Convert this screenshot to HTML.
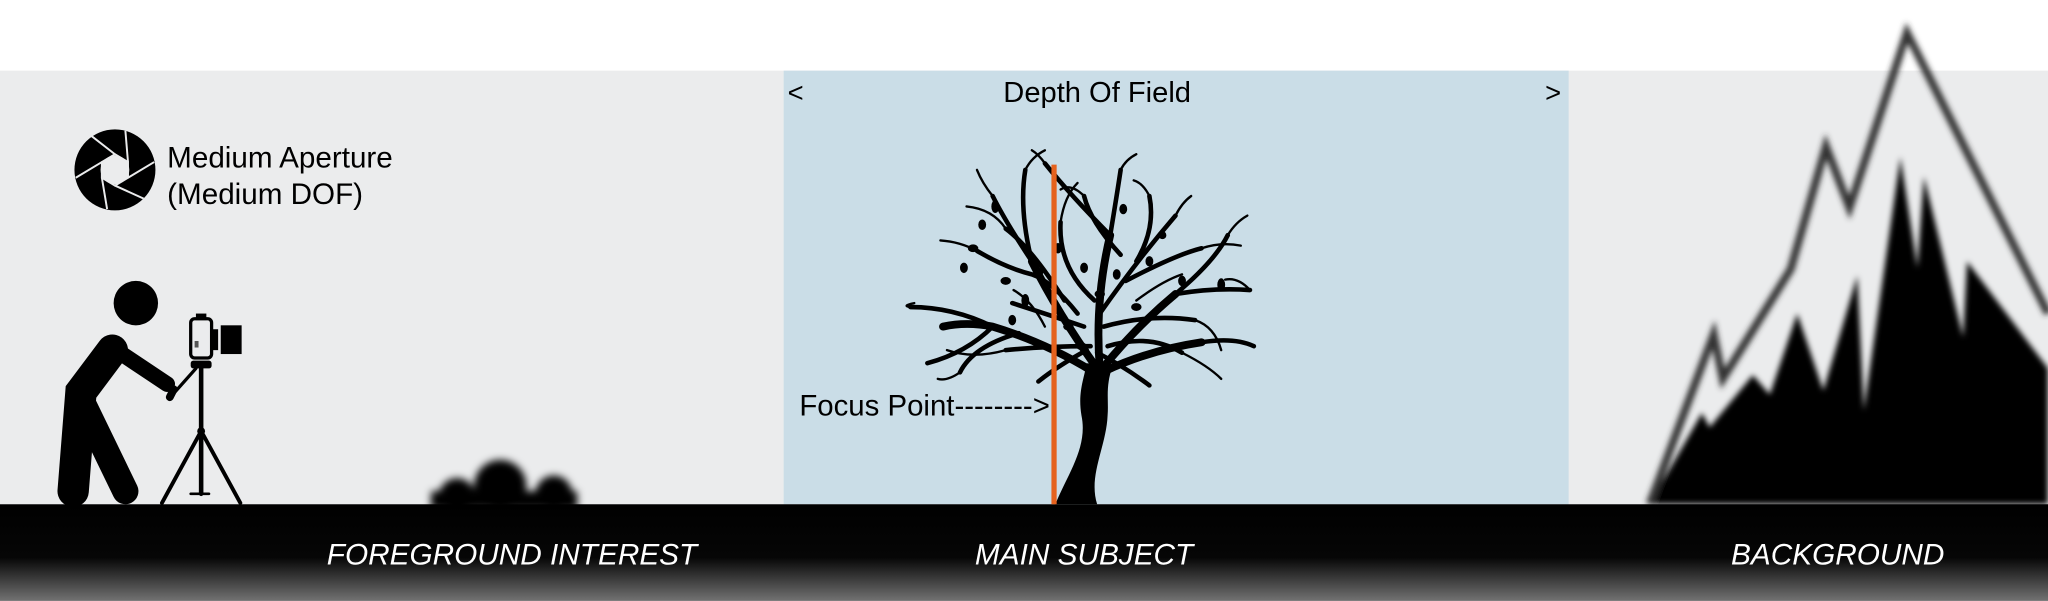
<!DOCTYPE html>
<html><head><meta charset="utf-8"><style>
html,body{margin:0;padding:0;background:#fff;}
svg{display:block;}
text{font-family:"Liberation Sans",Arial,sans-serif;}
</style></head><body>
<svg width="2048" height="601" viewBox="0 0 1568 460" xmlns="http://www.w3.org/2000/svg">
<defs>
<linearGradient id="gnd" x1="0" y1="0" x2="0" y2="1">
<stop offset="0" stop-color="#000"/><stop offset="0.55" stop-color="#060606"/><stop offset="1" stop-color="#727272"/>
</linearGradient>
<filter id="b3" x="-20%" y="-20%" width="140%" height="140%"><feGaussianBlur stdDeviation="3"/></filter>
<filter id="b2" x="-20%" y="-20%" width="140%" height="140%"><feGaussianBlur stdDeviation="2.2"/></filter>
</defs>
<rect width="1568" height="460" fill="#fff"/>
<rect x="0" y="54" width="1568" height="332" fill="#ebeced"/>
<rect x="600" y="54" width="601" height="332" fill="#cadde7"/>

<!-- mountain -->
<g filter="url(#b2)">
<polygon fill="#000" points="1263,386 1303,316 1309,327 1342,287 1355,302 1376,240 1396,299 1422,211 1427,314 1455,120 1468,205 1473,135 1503,258 1506,200 1568,282 1568,386"/>
<polyline fill="none" stroke="#333" stroke-width="6" stroke-linejoin="miter" points="1263,386 1312,256 1319,290 1371,206 1398,112 1416,159 1460,25 1568,240"/>
</g>

<!-- bush -->
<g filter="url(#b3)" fill="#000">
<circle cx="383" cy="372" r="20"/><circle cx="350" cy="380" r="14"/><circle cx="424" cy="378" r="14"/>
<rect x="330" y="376" width="112" height="14"/>
</g>

<!-- ground -->
<rect x="0" y="386" width="1568" height="74" fill="url(#gnd)"/>
<text x="392" y="432" font-size="22.8" font-style="italic" fill="#fff" text-anchor="middle">FOREGROUND INTEREST</text>
<text x="830" y="432" font-size="22.8" font-style="italic" fill="#fff" text-anchor="middle">MAIN SUBJECT</text>
<text x="1407" y="432" font-size="22.8" font-style="italic" fill="#fff" text-anchor="middle">BACKGROUND</text>

<!-- aperture -->
<circle cx="88" cy="130" r="31" fill="#000"/>
<g stroke="#ebeced" stroke-width="1.5" fill="none">
<polygon points="88,118 98,124 98,136 88,142 78,136 78,124"/>
<line x1="88" y1="118" x2="70" y2="104"/><line x1="98" y1="124" x2="96" y2="100"/>
<line x1="98" y1="136" x2="118" y2="124"/><line x1="88" y1="142" x2="110" y2="152"/>
<line x1="78" y1="136" x2="82" y2="160"/><line x1="78" y1="124" x2="58" y2="136"/>
</g>
<circle cx="88" cy="130" r="11" fill="#ebeced"/>
<text x="128" y="128" font-size="22.7" fill="#000">Medium Aperture</text>
<text x="128" y="156" font-size="22.7" fill="#000">(Medium DOF)</text>

<!-- photographer -->
<circle cx="104" cy="232" r="17" fill="#000"/>
<g stroke="#000" stroke-linecap="round" fill="none">
<path d="M86,268 L62,300 L56,376" stroke-width="24"/>
<path d="M64,310 L96,376" stroke-width="20"/>
<path d="M92,270 L128,294" stroke-width="12"/>
<line x1="134" y1="300" x2="150" y2="282" stroke-width="2.5"/>
<line x1="133" y1="298" x2="130" y2="304" stroke-width="6"/>
<line x1="154" y1="280" x2="154" y2="378" stroke-width="3.5"/>
<line x1="154" y1="330" x2="124" y2="385" stroke-width="3"/>
<line x1="154" y1="330" x2="184" y2="385" stroke-width="3"/>
<line x1="146" y1="378" x2="160" y2="378" stroke-width="2"/>
</g>
<circle cx="154" cy="330" r="3" fill="#000"/>
<rect x="146" y="276" width="16" height="6" rx="2" fill="#000"/>
<rect x="146" y="244" width="16" height="30" rx="3" fill="#ebeced" stroke="#000" stroke-width="2.5"/>
<rect x="150" y="240" width="8" height="5" fill="#000"/>
<rect x="163" y="252" width="4" height="16" fill="#000"/>
<rect x="169" y="249" width="16" height="22" fill="#000"/>
<rect x="149" y="261" width="3" height="5" fill="#555"/>

<!-- tree -->
<g fill="#000">
<path d="M808,386 C818,362 833,342 828,318 C825,300 830,290 832,278 L852,280 C846,296 849,306 848,318 C847,342 833,364 840,386 Z"/>
</g>
<g stroke="#000" fill="none" stroke-linecap="round">
<g stroke-width="6">
<path d="M836,284 Q800,262 760,250 Q740,246 722,250"/>
<path d="M840,282 Q810,240 790,200"/>
<path d="M844,282 Q870,250 900,225"/>
<path d="M846,284 Q880,268 920,262"/>
<path d="M842,282 Q838,230 850,180"/>
</g>
<g stroke-width="3.5">
<path d="M790,200 Q770,170 760,150"/>
<path d="M790,200 Q780,160 785,130"/>
<path d="M760,250 Q730,235 697,235"/>
<path d="M760,250 Q740,270 710,278"/>
<path d="M780,255 Q745,265 735,285"/>
<path d="M900,225 Q930,200 940,180"/>
<path d="M900,225 Q930,220 957,222"/>
<path d="M920,262 Q945,258 960,265"/>
<path d="M850,180 Q855,150 858,130"/>
<path d="M850,180 Q820,150 800,125"/>
<path d="M842,240 Q870,200 900,165"/>
<path d="M845,250 Q880,240 915,245"/>
<path d="M815,230 Q790,190 770,175"/>
<path d="M825,240 Q805,215 790,210 Q770,205 748,192"/>
<path d="M830,250 Q800,240 775,232"/>
<path d="M870,200 Q885,175 880,150"/>
<path d="M858,195 Q835,170 830,150"/>
<path d="M840,270 Q860,280 880,295"/>
<path d="M832,268 Q810,280 795,292"/>
<path d="M835,265 Q800,265 770,268"/>
<path d="M848,265 Q880,255 905,270"/>
<path d="M838,230 Q810,205 812,170"/>
<path d="M862,215 Q900,195 920,190"/>
</g>
<g stroke-width="1.8">
<path d="M760,150 Q752,140 748,130"/><path d="M785,130 Q790,120 800,115"/>
<path d="M697,235 Q690,234 700,232"/><path d="M940,180 Q946,170 955,165"/>
<path d="M858,130 Q862,122 870,118"/><path d="M800,125 Q795,118 790,115"/>
<path d="M900,165 Q905,155 912,150"/><path d="M915,245 Q930,250 935,268"/>
<path d="M748,192 Q735,185 720,184"/><path d="M770,175 Q760,160 740,158"/>
<path d="M880,150 Q875,140 868,138"/><path d="M830,150 Q820,140 812,145"/>
<path d="M735,285 Q725,292 718,290"/><path d="M957,222 Q948,212 938,214"/>
<path d="M800,250 Q790,230 776,222"/><path d="M870,230 Q890,215 905,210"/>
<path d="M770,268 Q745,275 725,268"/><path d="M905,270 Q925,280 935,290"/>
<path d="M812,170 Q815,150 825,140"/><path d="M920,190 Q935,185 950,188"/>
</g>
</g>
<g fill="#000">
<ellipse cx="762" cy="158" rx="3" ry="5"/><ellipse cx="752" cy="172" rx="3" ry="4"/>
<ellipse cx="745" cy="190" rx="4" ry="3"/><ellipse cx="738" cy="205" rx="3" ry="4"/>
<ellipse cx="770" cy="215" rx="4" ry="3"/><ellipse cx="785" cy="230" rx="3" ry="5"/>
<ellipse cx="795" cy="208" rx="4" ry="3"/><ellipse cx="810" cy="190" rx="3" ry="4"/>
<ellipse cx="830" cy="205" rx="3" ry="4"/><ellipse cx="842" cy="225" rx="4" ry="3"/>
<ellipse cx="855" cy="210" rx="3" ry="4"/><ellipse cx="870" cy="235" rx="4" ry="3"/>
<ellipse cx="880" cy="200" rx="3" ry="4"/><ellipse cx="905" cy="215" rx="3" ry="4"/>
<ellipse cx="935" cy="218" rx="3" ry="5"/><ellipse cx="818" cy="250" rx="4" ry="3"/>
<ellipse cx="828" cy="265" rx="4" ry="3"/><ellipse cx="860" cy="160" rx="3" ry="4"/>
<ellipse cx="775" cy="245" rx="3" ry="4"/><ellipse cx="890" cy="180" rx="3" ry="3"/>
</g>

<line x1="807" y1="126" x2="807" y2="386" stroke="#e5621e" stroke-width="4"/>
<text x="612" y="318" font-size="22.5" fill="#000">Focus Point--------&gt;</text>

<text x="840" y="78" font-size="22.3" fill="#000" text-anchor="middle">Depth Of Field</text>
<text x="603" y="78" font-size="21" fill="#000">&lt;</text>
<text x="1183" y="78" font-size="21" fill="#000">&gt;</text>
</svg>
</body></html>
